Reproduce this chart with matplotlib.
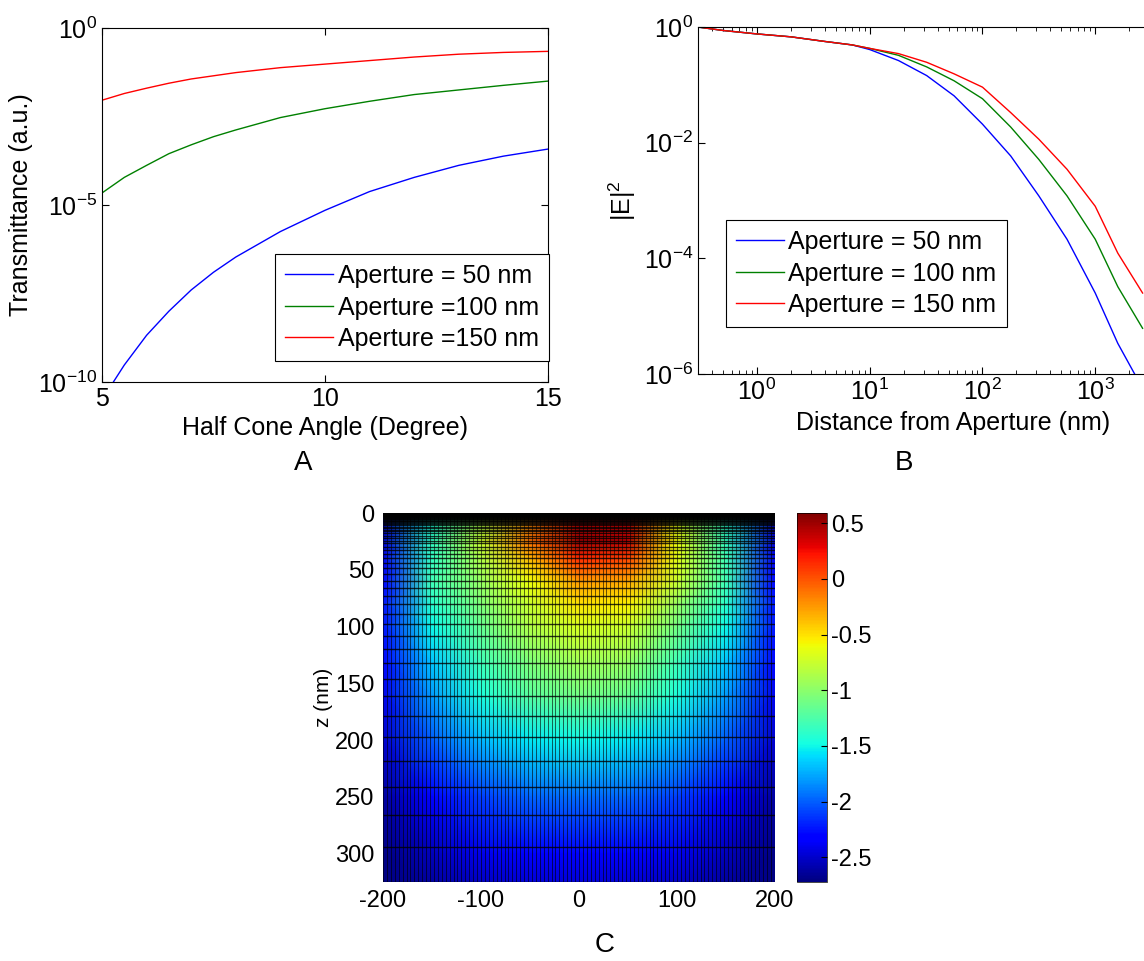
import numpy as np
import matplotlib.pyplot as plt
from matplotlib.ticker import NullLocator

plt.rcParams['font.family'] = ['Liberation Sans', 'DejaVu Sans']
plt.rcParams['mathtext.default'] = 'regular'
plt.rcParams['axes.unicode_minus'] = False
plt.rcParams['font.size'] = 18

# ---- data ----
# A: transmittance vs half cone angle (log10 values)
angle = [5, 5.5, 6, 6.5, 7, 7.5, 8, 9, 10, 11, 12, 13, 14, 15]
logT_50 = [-10.5, -9.52, -8.68, -8.0, -7.40, -6.90, -6.47, -5.75, -5.15, -4.62, -4.22, -3.88, -3.62, -3.42]
logT_100 = [-4.66, -4.22, -3.88, -3.55, -3.30, -3.07, -2.88, -2.53, -2.28, -2.07, -1.88, -1.75, -1.62, -1.50]
logT_150 = [-2.04, -1.85, -1.70, -1.56, -1.44, -1.35, -1.26, -1.12, -1.02, -0.92, -0.82, -0.74, -0.69, -0.66]

# B: |E|^2 vs distance from aperture (log10 of |E|^2)
dist = [0.3, 0.5, 1, 2, 4, 7, 10, 18, 32, 56, 100, 178, 316, 562, 1000, 1585, 2630]
logE_50 = [0, -0.06, -0.12, -0.17, -0.25, -0.31, -0.39, -0.58, -0.84, -1.19, -1.68, -2.23, -2.92, -3.67, -4.60, -5.47, -6.25]
logE_100 = [0, -0.06, -0.12, -0.17, -0.25, -0.31, -0.37, -0.49, -0.69, -0.93, -1.24, -1.73, -2.29, -2.92, -3.67, -4.49, -5.21]
logE_150 = [0, -0.06, -0.12, -0.17, -0.25, -0.31, -0.37, -0.46, -0.61, -0.81, -1.04, -1.48, -1.94, -2.46, -3.10, -3.91, -4.60]

# C: field map (log10 |E|^2), rows = z, columns = x
x_nodes = [-200, -150, -100, -50, 0, 50, 100, 150, 200]
z_nodes = [0, 10, 25, 40, 60, 80, 100, 130, 160, 200, 250, 300, 325]
field = [
    [-2.55, -1.55, -0.95, -0.30, 0.25, 0.20, -0.75, -1.50, -2.50],
    [-2.50, -1.45, -0.85, -0.20, 0.35, 0.30, -0.65, -1.40, -2.45],
    [-2.45, -1.35, -0.75, -0.10, 0.50, 0.40, -0.60, -1.35, -2.45],
    [-2.40, -1.35, -0.85, -0.35, 0.15, 0.05, -0.65, -1.30, -2.40],
    [-2.30, -1.30, -0.95, -0.60, -0.25, -0.30, -0.75, -1.30, -2.30],
    [-2.25, -1.40, -1.05, -0.75, -0.50, -0.55, -0.95, -1.40, -2.25],
    [-2.25, -1.50, -1.15, -0.85, -0.70, -0.75, -1.10, -1.50, -2.25],
    [-2.35, -1.65, -1.30, -1.05, -0.90, -0.95, -1.30, -1.65, -2.35],
    [-2.40, -1.80, -1.45, -1.20, -1.10, -1.15, -1.45, -1.80, -2.40],
    [-2.50, -2.00, -1.70, -1.55, -1.50, -1.55, -1.70, -2.00, -2.50],
    [-2.62, -2.30, -2.10, -1.98, -1.95, -1.98, -2.10, -2.30, -2.62],
    [-2.70, -2.55, -2.40, -2.32, -2.30, -2.32, -2.40, -2.55, -2.70],
    [-2.72, -2.62, -2.52, -2.47, -2.45, -2.47, -2.52, -2.62, -2.72],
]

labels_A = ['Aperture = 50 nm', 'Aperture =100 nm', 'Aperture =150 nm']
labels_B = ['Aperture = 50 nm', 'Aperture = 100 nm', 'Aperture = 150 nm']
colors = [(0, 0, 1), (0, 0.5, 0), (1, 0, 0)]

W, H = 1144, 961
fig = plt.figure(figsize=(W / 100, H / 100), dpi=100)


def box(l, t, r, b):
    return [l / W, 1 - b / H, (r - l) / W, (b - t) / H]


def matlab_ticks(ax):
    ax.tick_params(which='both', direction='in', top=True, right=True)
    ax.tick_params(which='major', length=5)
    ax.tick_params(which='minor', length=3)
    for s in ax.spines.values():
        s.set_linewidth(0.8)


# ---- A ----
axA = fig.add_axes(box(102, 28, 548, 382))
for lt, c, lab in zip([logT_50, logT_100, logT_150], colors, labels_A):
    axA.semilogy(angle, 10.0 ** np.array(lt), color=c, lw=1, label=lab)
axA.set_xlim(5, 15)
axA.set_ylim(1e-10, 1)
axA.set_xticks([5, 10, 15])
axA.set_yticks([1e-10, 1e-5, 1])
axA.yaxis.set_minor_locator(NullLocator())
matlab_ticks(axA)
axA.set_xlabel('Half Cone Angle (Degree)', labelpad=4)
axA.set_ylabel('Transmittance (a.u.)')
legA = axA.legend(loc='upper left', bbox_to_anchor=(275 / W, 1 - 254 / H),
                  bbox_transform=fig.transFigure, borderaxespad=0,
                  fancybox=False, edgecolor='k', framealpha=1,
                  handlelength=1.9, handletextpad=0.2, labelspacing=0.3,
                  borderpad=0.4)
legA.get_frame().set_linewidth(0.8)

# ---- B ----
axB = fig.add_axes(box(698, 27, 1208, 374))
for le, c, lab in zip([logE_50, logE_100, logE_150], colors, labels_B):
    axB.loglog(dist, 10.0 ** np.array(le), color=c, lw=1, label=lab)
axB.set_xlim(0.3, 1e4)
axB.set_ylim(1e-6, 1)
axB.set_xticks([1, 10, 100, 1000])
axB.set_yticks([1e-6, 1e-4, 1e-2, 1])
axB.yaxis.set_minor_locator(NullLocator())
matlab_ticks(axB)
axB.set_xlabel('Distance from Aperture (nm)', labelpad=4)
axB.set_ylabel('|E|$^2$')
legB = axB.legend(loc='upper left', bbox_to_anchor=(726 / W, 1 - 220 / H),
                  bbox_transform=fig.transFigure, borderaxespad=0,
                  fancybox=False, edgecolor='k', framealpha=1,
                  handlelength=1.9, handletextpad=0.2, labelspacing=0.3,
                  borderpad=0.4)
legB.get_frame().set_linewidth(0.8)

# ---- C ----
axC = fig.add_axes(box(383, 513, 775, 882))
X, Z = np.meshgrid(x_nodes, z_nodes)
pcm = axC.pcolormesh(X, Z, np.array(field), cmap='jet', shading='gouraud',
                     vmin=-2.72, vmax=0.59)
# simulation mesh lines
x_edges = np.linspace(-200, 200, 101)
z_edges = 325 * 0.905 ** np.arange(0, 70)
axC.vlines(x_edges, 0, 325, colors='k', lw=0.6, alpha=0.7)
axC.hlines(z_edges, -200, 200, colors='k', lw=1.0, alpha=0.8)
axC.set_xlim(-200, 200)
axC.set_ylim(325, 0)
axC.set_xticks([-200, -100, 0, 100, 200])
axC.set_yticks([0, 50, 100, 150, 200, 250, 300])
axC.tick_params(length=0, labelsize=17, pad=6)
for s in axC.spines.values():
    s.set_visible(False)
axC.set_ylabel('z (nm)', fontsize=15, labelpad=2)

cax = fig.add_axes(box(797, 513, 827, 882))
cb = fig.colorbar(pcm, cax=cax)
cb.set_ticks([0.5, 0, -0.5, -1, -1.5, -2, -2.5])
cb.set_ticklabels(['0.5', '0', '-0.5', '-1', '-1.5', '-2', '-2.5'])
cax.tick_params(direction='in', length=4, labelsize=17, pad=3)
cb.outline.set_linewidth(0.5)

fig.text(303 / W, 1 - 463 / H, 'A', ha='center', va='center', fontsize=20)
fig.text(904 / W, 1 - 463 / H, 'B', ha='center', va='center', fontsize=20)
fig.text(605 / W, 1 - 945 / H, 'C', ha='center', va='center', fontsize=20)

fig.savefig('out.png', dpi=100)
